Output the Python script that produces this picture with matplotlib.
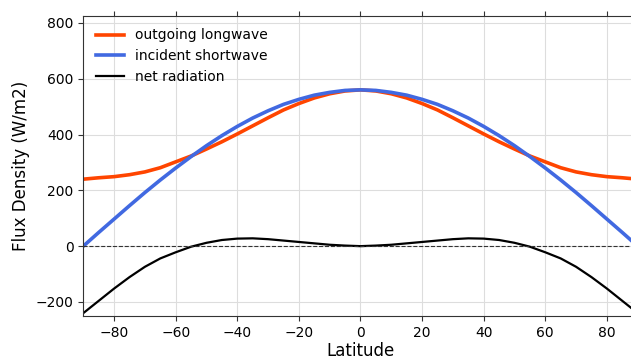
import matplotlib
matplotlib.use("Agg")
import matplotlib.pyplot as plt

# latitude grid (deg) and values, W/m2
lat = [-90, -85, -80, -75, -70, -65, -60, -55, -50, -45, -40, -35, -30, -25, -20, -15, -10, -5,
       0, 5, 10, 15, 20, 25, 30, 35, 40, 45, 50, 55, 60, 65, 70, 75, 80, 85, 90]
half_sw = [0, 49, 97, 145, 192, 237, 280, 321, 360, 396, 429, 459, 485, 508, 526, 541, 551, 558]
half_olr = [240, 245, 249, 256, 266, 281, 302, 323, 348, 374, 402, 431, 460, 488, 511, 531, 546, 556]
half_net = [-240, -196, -152, -111, -74, -44, -22, -2, 12, 22, 27, 28, 25, 20, 15, 10, 5, 2]

shortwave = half_sw + [560] + half_sw[::-1]
longwave = half_olr + [560] + half_olr[::-1]
net = half_net + [0] + half_net[::-1]

fig = plt.figure(figsize=(6.31, 3.59), dpi=100)
ax = fig.add_axes([0.132, 0.12, 0.8786, 0.8357])

ax.plot(lat, longwave, color='#FF4500', lw=2.6, label='outgoing longwave')
ax.plot(lat, shortwave, color='#4169E1', lw=2.6, label='incident shortwave')
ax.plot(lat, net, color='black', lw=1.6, label='net radiation')
ax.axhline(0, color='#333333', lw=0.8, ls='--')

ax.set_xlim(-90, 90)
ax.set_ylim(-250, 825)
ax.set_xticks(range(-80, 81, 20))
ax.set_yticks(range(-200, 801, 200))
ax.grid(True, color='#dddddd', lw=0.8)
ax.tick_params(top=True, labelsize=10, color='#333333')
for s in ax.spines.values():
    s.set_color('#333333')
ax.spines['right'].set_visible(False)

ax.set_xlabel('Latitude', fontsize=12, labelpad=2)
ax.set_ylabel('Flux Density (W/m2)', fontsize=12)
ax.legend(loc='upper left', frameon=False, fontsize=10)

fig.savefig('out.png', dpi=100)
